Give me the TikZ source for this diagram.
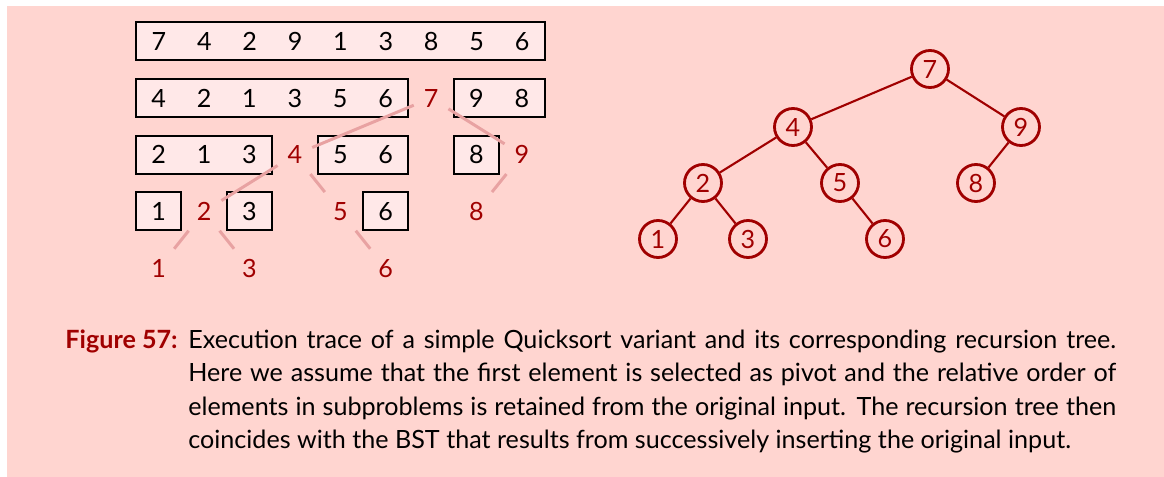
\documentclass[tikz,border=0pt]{standalone}
\usepackage{fontspec}
\setmainfont{Lato}
\usepackage{xcolor}
\usepackage{tikz}
\usetikzlibrary{positioning}

\definecolor{figred}{RGB}{160,0,0}
\definecolor{bgpink}{RGB}{255,213,208}
\definecolor{boxpink}{RGB}{255,232,232}
\definecolor{tracepink}{RGB}{232,162,162}

\newcommand{\slotrow}[1]{\foreach \v in {#1}{\makebox[0.908cm]{\v}}}

\begin{document}
\begin{tikzpicture}[x=0.02cm,y=-0.02cm,font=\fontsize{14.3}{17}\selectfont]
			\tikzset{
				cellbox/.style={rectangle, draw=black, line width=1.1pt, fill=boxpink, inner sep=0pt, minimum height=0.76cm},
				pivot/.style={rectangle, inner sep=0pt, minimum width=0.68cm, minimum height=0.76cm, text=figred},
				trace/.style={draw=tracepink, line width=1.7pt},
				bst/.style={circle, draw=figred, line width=1.6pt, text=figred, minimum size=0.74cm, inner sep=0pt},
				bstedge/.style={draw=figred, line width=1.2pt},
				capline/.style={anchor=base west, inner sep=0pt}
			}
			\useasboundingbox (0,0) rectangle (1164,477);
			\fill[white] (0,0) rectangle (1164,477);
			\fill[bgpink] (7,6) rectangle (1164,477);

			% Row 1: input
			\node[cellbox] (r1) at (340.5,41.3) {\slotrow{7,4,2,9,1,3,8,5,6}};

			% Row 2: split at 7
			\node[cellbox] (r2a) at (272.2,98) {\slotrow{4,2,1,3,5,6}};
			\node[pivot] (p7) at (431.1,98) {7};
			\node[cellbox] (r2b) at (499.2,98) {\slotrow{9,8}};

			% Row 3: split at 4 and 9
			\node[cellbox] (r3a) at (204.1,154.7) {\slotrow{2,1,3}};
			\node[pivot] (p4) at (294.9,154.7) {4};
			\node[cellbox] (r3b) at (363,154.7) {\slotrow{5,6}};
			\node[cellbox] (r3c) at (476.5,154.7) {\slotrow{8}};
			\node[pivot] (p9) at (521.9,154.7) {9};

			% Row 4: split at 2, 5 and 8
			\node[cellbox] (r4a) at (158.7,211.4) {\slotrow{1}};
			\node[pivot] (p2) at (204.1,211.4) {2};
			\node[cellbox] (r4b) at (249.5,211.4) {\slotrow{3}};
			\node[pivot] (p5) at (340.3,211.4) {5};
			\node[cellbox] (r4c) at (385.7,211.4) {\slotrow{6}};
			\node[pivot] (p8) at (476.5,211.4) {8};

			% Row 5: leaves
			\node[pivot] (q1) at (158.7,268.1) {1};
			\node[pivot] (q3) at (249.5,268.1) {3};
			\node[pivot] (q6) at (385.7,268.1) {6};

			\draw[trace] (p7) -- (p4);
			\draw[trace] (p7) -- (p9);
			\draw[trace] (p4) -- (p2);
			\draw[trace] (p4) -- (p5);
			\draw[trace] (p9) -- (p8);
			\draw[trace] (p2) -- (q1);
			\draw[trace] (p2) -- (q3);
			\draw[trace] (p5) -- (q6);

			% Recursion tree
			\node[bst] (t7) at (930,69) {7};
			\node[bst] (t4) at (793,127) {4};
			\node[bst] (t9) at (1021,127) {9};
			\node[bst] (t2) at (703,183) {2};
			\node[bst] (t5) at (840,183) {5};
			\node[bst] (t8) at (976,183) {8};
			\node[bst] (t1) at (658,239) {1};
			\node[bst] (t3) at (748,239) {3};
			\node[bst] (t6) at (885,239) {6};

			\draw[bstedge] (t7) -- (t4);
			\draw[bstedge] (t7) -- (t9);
			\draw[bstedge] (t4) -- (t2);
			\draw[bstedge] (t4) -- (t5);
			\draw[bstedge] (t9) -- (t8);
			\draw[bstedge] (t2) -- (t1);
			\draw[bstedge] (t2) -- (t3);
			\draw[bstedge] (t5) -- (t6);

			% Caption
			\node[anchor=base east, inner sep=0pt, text=figred, font=\fontsize{14.3}{17}\selectfont\bfseries] (figlbl) at (178,348) {Figure 57:};
			\node[capline] (cap1) at (188,348) {\makebox[18.56cm][s]{Execution trace of a simple Quicksort variant and its corresponding recursion tree.}};
			\node[capline] (cap2) at (188,381.5) {\makebox[18.56cm][s]{Here we assume that the first element is selected as pivot and the relative order of}};
			\node[capline] (cap3) at (188,415) {\makebox[18.56cm][s]{elements in subproblems is retained from the original input.  The recursion tree then}};
			\node[capline] (cap4) at (188,448.5) {coincides with the BST that results from successively inserting the original input.};
		\end{tikzpicture}
\end{document}
